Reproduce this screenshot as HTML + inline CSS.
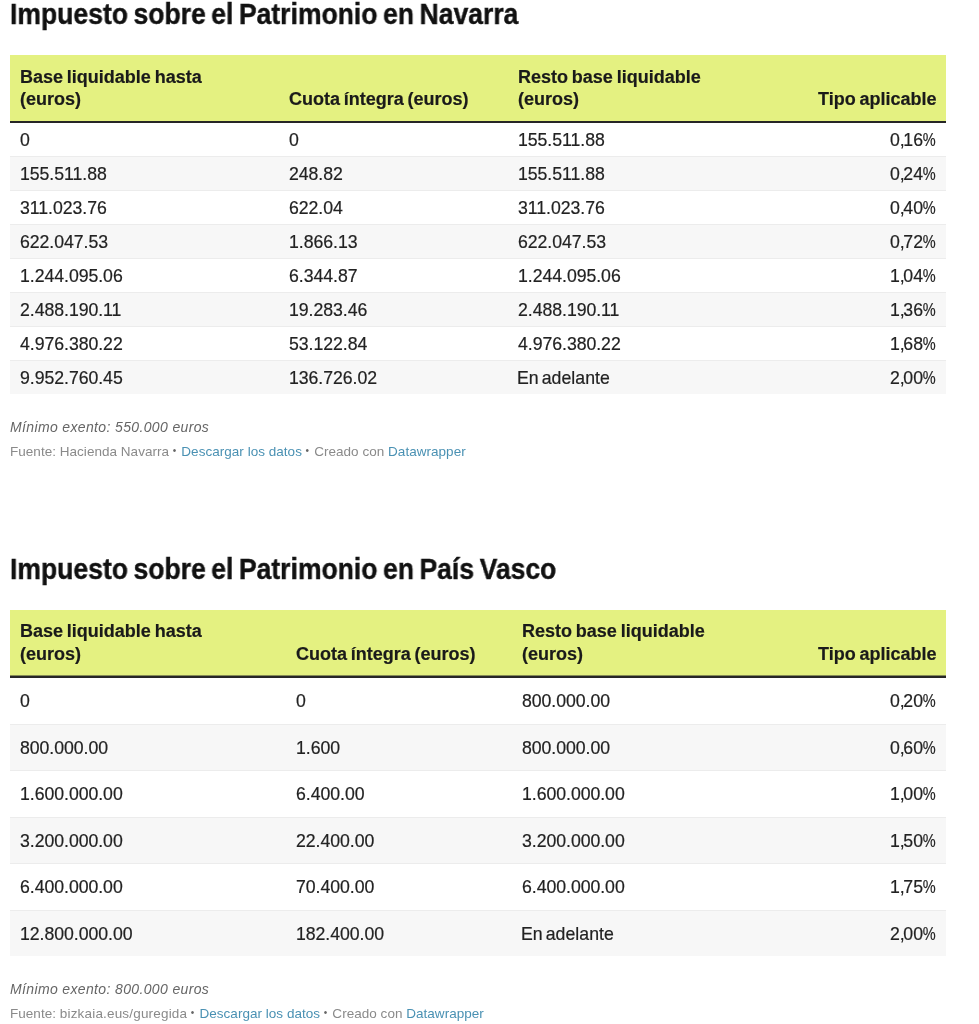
<!DOCTYPE html>
<html><head><meta charset="utf-8"><title>Impuesto sobre el Patrimonio</title>
<style>
html,body{margin:0;padding:0;background:#fff;}
body{width:979px;height:1024px;position:relative;overflow:hidden;font-family:"Liberation Sans",sans-serif;color:#222;}
div,.td{position:absolute;white-space:nowrap;}
.title,.th,.td,.note,.foot{will-change:transform;}
.title{left:10px;font-weight:bold;font-size:28.7px;line-height:32px;color:#111;letter-spacing:0px;word-spacing:-2px;transform:scaleX(0.925);transform-origin:0 0;-webkit-text-stroke:0.4px #111}
.head{left:10px;width:936px;background:#e4f181;}
.hline{left:10px;width:936px;background:#262626;}
.hline.half{background:#858c54;}
.th{font-weight:bold;font-size:18px;line-height:23px;color:#1a1a1a;letter-spacing:0px;word-spacing:-1.2px;-webkit-text-stroke:0.2px #1a1a1a}
.r{text-align:right;}
.row{left:10px;width:936px;box-sizing:border-box;border-bottom:1px solid #ececec;background:#fff;}
.row.alt{background:#f7f7f7;}
.row.last{border-bottom:none;}
.td{font-size:17.7px;color:#222;-webkit-text-stroke:0.2px #222;top:0.5px;letter-spacing:-0.05px}
.td.r{letter-spacing:0px}
.td.tx{letter-spacing:0.05px;word-spacing:-2px}
.td i{font-style:normal}
.td i.c{letter-spacing:-1.4px}
.td i.p{display:inline-block;transform:scaleX(0.82);transform-origin:100% 50%;margin-left:-2.8px;letter-spacing:0}
.note{left:10px;font-style:italic;font-size:14px;line-height:18px;color:#666;letter-spacing:0.36px}
.foot{left:10px;font-size:13.5px;line-height:18px;color:#8a8a8a;letter-spacing:0.03px}
.foot a{color:#4a91b3;}
.foot i.d{font-style:normal;display:inline-block;width:4.7px;font-size:10px;text-align:center;color:#666;margin-left:-0.8px;margin-right:0.8px;vertical-align:1.5px;letter-spacing:0}
.foot b{font-weight:normal;letter-spacing:0.18px}
</style></head>
<body>
<div class="title" style="top:-2px">Impuesto sobre el Patrimonio en Navarra</div>
<div class="head" style="top:55px;height:66px"></div>
<div class="hline" style="top:121px;height:2px"></div>
<div class="th" style="left:20px;top:65.6px">Base liquidable hasta</div>
<div class="th" style="left:20px;top:88.0px">(euros)</div>
<div class="th" style="left:289px;top:88.0px">Cuota íntegra (euros)</div>
<div class="th" style="left:518px;top:65.6px">Resto base liquidable</div>
<div class="th" style="left:518px;top:88.0px">(euros)</div>
<div class="th r" style="right:43px;top:88.0px">Tipo aplicable</div>
<div class="row" style="top:123px;height:34px;line-height:34px"><span class="td" style="left:10px;top:-0.5px">0</span><span class="td" style="left:279px;top:-0.5px">0</span><span class="td" style="left:508px;top:-0.5px">155.511.88</span><span class="td r" style="right:10.4px;top:-0.5px">0<i class="c">,</i>16<i class="p">%</i></span></div>
<div class="row alt" style="top:157px;height:34px;line-height:34px"><span class="td" style="left:10px;top:-0.5px">155.511.88</span><span class="td" style="left:279px;top:-0.5px">248.82</span><span class="td" style="left:508px;top:-0.5px">155.511.88</span><span class="td r" style="right:10.4px;top:-0.5px">0<i class="c">,</i>24<i class="p">%</i></span></div>
<div class="row" style="top:191px;height:34px;line-height:34px"><span class="td" style="left:10px;top:-0.5px">311.023.76</span><span class="td" style="left:279px;top:-0.5px">622.04</span><span class="td" style="left:508px;top:-0.5px">311.023.76</span><span class="td r" style="right:10.4px;top:-0.5px">0<i class="c">,</i>40<i class="p">%</i></span></div>
<div class="row alt" style="top:225px;height:34px;line-height:34px"><span class="td" style="left:10px;top:-0.5px">622.047.53</span><span class="td" style="left:279px;top:-0.5px">1.866.13</span><span class="td" style="left:508px;top:-0.5px">622.047.53</span><span class="td r" style="right:10.4px;top:-0.5px">0<i class="c">,</i>72<i class="p">%</i></span></div>
<div class="row" style="top:259px;height:34px;line-height:34px"><span class="td" style="left:10px;top:-0.5px">1.244.095.06</span><span class="td" style="left:279px;top:-0.5px">6.344.87</span><span class="td" style="left:508px;top:-0.5px">1.244.095.06</span><span class="td r" style="right:10.4px;top:-0.5px">1<i class="c">,</i>04<i class="p">%</i></span></div>
<div class="row alt" style="top:293px;height:34px;line-height:34px"><span class="td" style="left:10px;top:-0.5px">2.488.190.11</span><span class="td" style="left:279px;top:-0.5px">19.283.46</span><span class="td" style="left:508px;top:-0.5px">2.488.190.11</span><span class="td r" style="right:10.4px;top:-0.5px">1<i class="c">,</i>36<i class="p">%</i></span></div>
<div class="row" style="top:327px;height:34px;line-height:34px"><span class="td" style="left:10px;top:-0.5px">4.976.380.22</span><span class="td" style="left:279px;top:-0.5px">53.122.84</span><span class="td" style="left:508px;top:-0.5px">4.976.380.22</span><span class="td r" style="right:10.4px;top:-0.5px">1<i class="c">,</i>68<i class="p">%</i></span></div>
<div class="row alt last" style="top:361px;height:32.5px;line-height:34px"><span class="td" style="left:10px;top:-0.5px">9.952.760.45</span><span class="td" style="left:279px;top:-0.5px">136.726.02</span><span class="td tx" style="left:506.5px;top:-0.5px">En adelante</span><span class="td r" style="right:10.4px;top:-0.5px">2<i class="c">,</i>00<i class="p">%</i></span></div>
<div class="note" style="top:418.3px">Mínimo exento: 550.000 euros</div>
<div class="foot" style="top:442px">Fuente: Hacienda Navarra <i class="d">•</i> <a>Descargar los datos</a> <i class="d">•</i> Creado con <a>Datawrapper</a></div>
<div class="title" style="top:553px">Impuesto sobre el Patrimonio en País Vasco</div>
<div class="head" style="top:610px;height:65.5px"></div>
<div class="hline half" style="top:675px;height:1px"></div>
<div class="hline" style="top:676px;height:2.0px"></div>
<div class="th" style="left:20px;top:620.1px">Base liquidable hasta</div>
<div class="th" style="left:20px;top:642.5px">(euros)</div>
<div class="th" style="left:296px;top:642.5px">Cuota íntegra (euros)</div>
<div class="th" style="left:522.3px;top:620.1px">Resto base liquidable</div>
<div class="th" style="left:522.3px;top:642.5px">(euros)</div>
<div class="th r" style="right:43px;top:642.5px">Tipo aplicable</div>
<div class="row" style="top:678.0px;height:46.5px;line-height:46.5px"><span class="td" style="left:10px;top:0.2px">0</span><span class="td" style="left:286px;top:0.2px">0</span><span class="td" style="left:512.3px;top:0.2px">800.000.00</span><span class="td r" style="right:10.4px;top:0.2px">0<i class="c">,</i>20<i class="p">%</i></span></div>
<div class="row alt" style="top:724.5px;height:46.5px;line-height:46.5px"><span class="td" style="left:10px;top:0.2px">800.000.00</span><span class="td" style="left:286px;top:0.2px">1.600</span><span class="td" style="left:512.3px;top:0.2px">800.000.00</span><span class="td r" style="right:10.4px;top:0.2px">0<i class="c">,</i>60<i class="p">%</i></span></div>
<div class="row" style="top:771.0px;height:46.5px;line-height:46.5px"><span class="td" style="left:10px;top:0.2px">1.600.000.00</span><span class="td" style="left:286px;top:0.2px">6.400.00</span><span class="td" style="left:512.3px;top:0.2px">1.600.000.00</span><span class="td r" style="right:10.4px;top:0.2px">1<i class="c">,</i>00<i class="p">%</i></span></div>
<div class="row alt" style="top:817.5px;height:46.5px;line-height:46.5px"><span class="td" style="left:10px;top:0.2px">3.200.000.00</span><span class="td" style="left:286px;top:0.2px">22.400.00</span><span class="td" style="left:512.3px;top:0.2px">3.200.000.00</span><span class="td r" style="right:10.4px;top:0.2px">1<i class="c">,</i>50<i class="p">%</i></span></div>
<div class="row" style="top:864.0px;height:46.5px;line-height:46.5px"><span class="td" style="left:10px;top:0.2px">6.400.000.00</span><span class="td" style="left:286px;top:0.2px">70.400.00</span><span class="td" style="left:512.3px;top:0.2px">6.400.000.00</span><span class="td r" style="right:10.4px;top:0.2px">1<i class="c">,</i>75<i class="p">%</i></span></div>
<div class="row alt last" style="top:910.5px;height:45.0px;line-height:46.5px"><span class="td" style="left:10px;top:0.2px">12.800.000.00</span><span class="td" style="left:286px;top:0.2px">182.400.00</span><span class="td tx" style="left:510.79999999999995px;top:0.2px">En adelante</span><span class="td r" style="right:10.4px;top:0.2px">2<i class="c">,</i>00<i class="p">%</i></span></div>
<div class="note" style="top:980.3px">Mínimo exento: 800.000 euros</div>
<div class="foot" style="top:1004px">Fuente: <b>bizkaia.eus/guregida</b> <i class="d">•</i> <a>Descargar los datos</a> <i class="d">•</i> Creado con <a>Datawrapper</a></div>
</body></html>
